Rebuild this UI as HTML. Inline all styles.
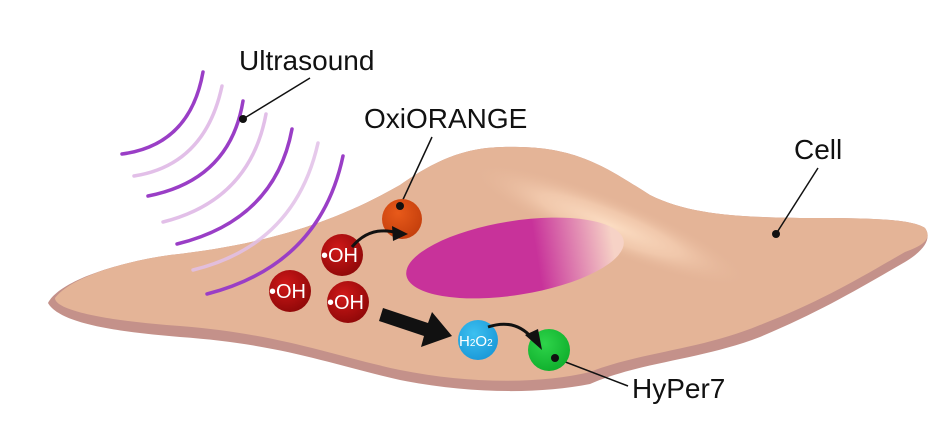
<!DOCTYPE html>
<html><head><meta charset="utf-8"><style>
html,body{margin:0;padding:0;background:#fff;width:951px;height:426px;overflow:hidden}
text{font-family:"Liberation Sans",sans-serif}
</style></head><body>
<svg width="951" height="426" viewBox="0 0 951 426" xmlns="http://www.w3.org/2000/svg">
<defs>
<radialGradient id="hl" cx="0.5" cy="0.5" r="0.5">
<stop offset="0" stop-color="#fbdcc2" stop-opacity="1"/>
<stop offset="0.5" stop-color="#f6d0b4" stop-opacity="0.7"/>
<stop offset="1" stop-color="#e4b497" stop-opacity="0"/>
</radialGradient>
<linearGradient id="nuc" x1="0" y1="0" x2="1" y2="0">
<stop offset="0" stop-color="#c8329a"/>
<stop offset="0.6" stop-color="#c8329a"/>
<stop offset="0.95" stop-color="#f6d2c6"/>
</linearGradient>
<radialGradient id="red" cx="0.4" cy="0.35" r="0.7"><stop offset="0" stop-color="#d01818"/><stop offset="1" stop-color="#8e0808"/></radialGradient>
<radialGradient id="org" cx="0.4" cy="0.35" r="0.7"><stop offset="0" stop-color="#e85a1a"/><stop offset="1" stop-color="#c33e0c"/></radialGradient>
<radialGradient id="blu" cx="0.4" cy="0.35" r="0.7"><stop offset="0" stop-color="#3cc0f0"/><stop offset="1" stop-color="#1a98d8"/></radialGradient>
<radialGradient id="grn" cx="0.4" cy="0.35" r="0.7"><stop offset="0" stop-color="#2ed44a"/><stop offset="1" stop-color="#0fae2c"/></radialGradient>
</defs>
<path d="M48,303 C60,280 120,262 170,255 C260,245 330,225 400,185 C450,150 480,146 520,147 C580,148 610,170 650,195 C690,215 740,217 800,218 C860,218 910,218 925,228 C932,238 925,250 905,262 C860,288 820,312 760,337 C700,360 640,362 590,384 C540,394 470,394 400,380 C330,364 280,344 180,337 C120,332 60,324 48,303 Z" fill="#c4918a"/>
<path d="M55,298 C70,278 120,262 170,255 C260,245 330,225 400,185 C450,150 480,146 520,147 C580,148 610,170 650,195 C690,215 740,217 800,218 C860,218 910,218 925,228 C932,238 925,245 905,252 C860,278 820,302 760,325 C700,350 640,352 590,372 C540,384 470,384 400,370 C330,355 280,334 180,326 C120,322 55,312 55,298 Z" fill="#e4b497"/>
<ellipse cx="610" cy="225" rx="150" ry="28" transform="rotate(22 610 225)" fill="url(#hl)"/>
<ellipse cx="515" cy="258" rx="110" ry="37" transform="rotate(-9 515 258)" fill="url(#nuc)"/>
<g fill="none" stroke-width="3.5" stroke-linecap="round">
<path d="M134,176 Q205,165 222,86" stroke="#e2bfe8"/>
<path d="M163,222 Q250,200 266,114" stroke="#e2bfe8"/>
<path d="M193,270 Q295,245 318,143" stroke="#e2bfe8" opacity="0.85"/>
<path d="M122,154 Q190,145 203,72" stroke="#9a3ec6"/>
<path d="M148,196 Q230,180 243,101" stroke="#9a3ec6"/>
<path d="M177,244 Q275,220 292,129" stroke="#9a3ec6"/>
<path d="M207,294 Q320,265 343,156" stroke="#9a3ec6"/>
</g>
<g stroke="#111" stroke-width="1.5" fill="none">
<line x1="310" y1="78" x2="243" y2="119"/>
<line x1="432" y1="137" x2="400" y2="206"/>
<line x1="818" y1="168" x2="776" y2="234"/>
<line x1="628" y1="386" x2="555" y2="358"/>
</g>
<circle cx="402" cy="219" r="20" fill="url(#org)"/>
<circle cx="342" cy="255" r="21" fill="url(#red)"/>
<circle cx="290" cy="291" r="21" fill="url(#red)"/>
<circle cx="348" cy="302" r="21" fill="url(#red)"/>
<circle cx="478" cy="340" r="20" fill="url(#blu)"/>
<circle cx="549" cy="350" r="21" fill="url(#grn)"/>
<g fill="#111"><circle cx="243" cy="119" r="4"/><circle cx="400" cy="206" r="4"/><circle cx="776" cy="234" r="4"/><circle cx="555" cy="358" r="4"/></g>
<path d="M352,247 Q370,225 398,233" stroke="#111" stroke-width="3" fill="none"/>
<path d="M392,226 L408,234 L393,241 Z" fill="#111"/>
<path d="M488,327 Q515,318 532,338" stroke="#111" stroke-width="3" fill="none"/>
<path d="M525,335 L542,350 L538,329 Z" fill="#111"/>
<path d="M383,308 L428,323 L432,312 L452,336 L421,347 L424,336 L379,321 Z" fill="#111"/>
<g fill="#fff" font-size="20">
<text x="321" y="262">•OH</text>
<text x="269" y="298">•OH</text>
<text x="327" y="309">•OH</text>
<text x="459" y="346" font-size="15">H<tspan font-size="10">2</tspan>O<tspan font-size="10">2</tspan></text>
</g>
<g fill="#111" font-size="28">
<text x="239" y="70">Ultrasound</text>
<text x="364" y="128">OxiORANGE</text>
<text x="794" y="159">Cell</text>
<text x="632" y="398">HyPer7</text>
</g>
</svg>
</body></html>
